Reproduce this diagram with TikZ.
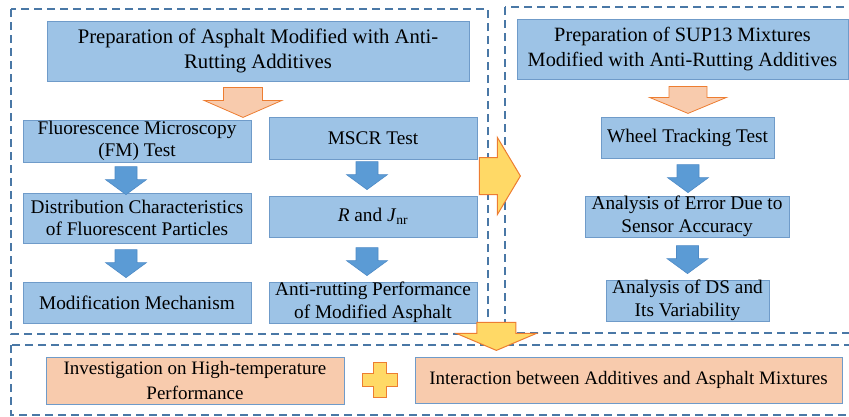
\documentclass[tikz,border=0pt]{standalone}
\usepackage{fontspec}
\setmainfont{Liberation Serif}
\usetikzlibrary{calc, positioning}

\definecolor{boxfill}{HTML}{9DC3E6}
\definecolor{boxline}{HTML}{6F9BC9}
\definecolor{arrowblue}{HTML}{5B9BD5}
\definecolor{arrowblueline}{HTML}{4F8BC6}
\definecolor{peach}{HTML}{F8CBAD}
\definecolor{orangeline}{HTML}{ED7D31}
\definecolor{sunny}{HTML}{FFD966}
\definecolor{frameblue}{HTML}{4A78A6}

% block arrow: style, tip, length, head length, half shaft, half head
\newcommand{\blockarrow}[6]{%
  \draw[shift={#2}, #1] (-#5,-#3) -- (#5,-#3) -- (#5,-#4) -- (#6,-#4) -- (0,0)
    -- (-#6,-#4) -- (-#5,-#4) -- cycle;}

\tikzset{
  stage/.style={draw=frameblue, line width=1.8pt, dash pattern=on 8pt off 5pt},
  bluebox/.style={draw=boxline, fill=boxfill, line width=0.8pt, align=center,
    inner sep=0pt, font=\fontsize{19.3}{22.5}\selectfont},
  peachbox/.style={bluebox, fill=peach, font=\fontsize{19}{25}\selectfont},
  bluearrow/.style={fill=arrowblue, draw=arrowblueline, line width=0.6pt},
  peacharrow/.style={fill=peach, draw=orangeline, line width=0.8pt},
  sunnyarrow/.style={fill=sunny, draw=orangeline, line width=1pt, line join=miter},
}

\begin{document}
\begin{tikzpicture}[x=1pt, y=-1pt]
  \useasboundingbox (0,0) rectangle (849,416);

  % dashed frames
  \draw[stage] (11,9) rectangle (488,334);
  \draw[stage] (505,7) rectangle (862,333);
  \draw[stage] (11,345) rectangle (862,415);

  % asphalt side
  \node[bluebox, minimum width=422pt, minimum height=60pt, font=\fontsize{20.7}{25}\selectfont]
    (prepA) at (258,51) {Preparation of Asphalt Modified with Anti-\\Rutting Additives};
  \node[bluebox, minimum width=228pt, minimum height=42pt] (fm) at (137,141)
    {Fluorescence Microscopy\\(FM) Test};
  \node[bluebox, minimum width=228pt, minimum height=50pt] (dist) at (137,218)
    {Distribution Characteristics\\of Fluorescent Particles};
  \node[bluebox, minimum width=228pt, minimum height=41pt] (mech) at (137,302.5)
    {Modification Mechanism};
  \node[bluebox, minimum width=208pt, minimum height=42pt] (mscr) at (373,138)
    {MSCR Test};
  \node[bluebox, minimum width=208pt, minimum height=41pt] (rj) at (373,216.5)
    {\textit{R} and \textit{J}\textsubscript{nr}};
  \node[bluebox, minimum width=208pt, minimum height=41pt] (anti) at (373,302.5)
    {Anti-rutting Performance\\of Modified Asphalt};

  % mixture side
  \node[bluebox, minimum width=331pt, minimum height=60pt, font=\fontsize{20.3}{25}\selectfont]
    (prepS) at (682.5,49) {Preparation of SUP13 Mixtures\\Modified with Anti-Rutting Additives};
  \node[bluebox, minimum width=173pt, minimum height=41pt] (wheel) at (687.5,137.5)
    {Wheel Tracking Test};
  \node[bluebox, minimum width=204pt, minimum height=41pt] (err) at (687,216.5)
    {Analysis of Error Due to\\Sensor Accuracy};
  \node[bluebox, minimum width=163pt, minimum height=41pt] (ds) at (687.5,300.5)
    {Analysis of DS and\\Its Variability};

  % conclusions
  \node[peachbox, minimum width=298pt, minimum height=47pt] (inv) at (195,380.5)
    {Investigation on High-temperature\\Performance};
  \node[peachbox, minimum width=427pt, minimum height=46pt] (inter) at (628.5,380)
    {Interaction between Additives and Asphalt Mixtures};

  % arrows
  \blockarrow{peacharrow}{($(prepA.south)+(-15,36)$)}{30}{17}{19.5}{39}
  \blockarrow{bluearrow}{($(dist.north)+(-11,2)$)}{28}{15}{11}{20.5}
  \blockarrow{bluearrow}{($(mech.north)+(-11,-4)$)}{28}{15}{11}{20.5}
  \blockarrow{bluearrow}{($(rj.north)+(-6,-6)$)}{28}{15}{11}{20.5}
  \blockarrow{bluearrow}{($(anti.north)+(-6,-6)$)}{28}{15}{11}{20.5}
  \blockarrow{peacharrow}{($(prepS.south)+(5.5,34)$)}{27}{16}{19}{38.5}
  \blockarrow{bluearrow}{($(err.north)+(1,-3)$)}{28}{15}{11}{20.5}
  \blockarrow{bluearrow}{($(ds.north)+(0,-6)$)}{28}{15}{11}{20.5}
  \blockarrow{sunnyarrow, rotate=90}{($(mscr.south east)!0.5!(rj.north east)+(43,-1.5)$)}{41}{23}{18.5}{38.5}
  \blockarrow{sunnyarrow}{($(anti.south east)+(19,27)$)}{28}{17}{19.5}{40}

  % plus sign
  \coordinate (plus) at ($(inv.east)!0.5!(inter.west)$);
  \draw[sunnyarrow, shift={(plus)}] (-6.5,-17.5) -- (6.5,-17.5) -- (6.5,-6.5) -- (17.5,-6.5)
    -- (17.5,6.5) -- (6.5,6.5) -- (6.5,17.5) -- (-6.5,17.5) -- (-6.5,6.5) -- (-17.5,6.5)
    -- (-17.5,-6.5) -- (-6.5,-6.5) -- cycle;
\end{tikzpicture}
\end{document}
